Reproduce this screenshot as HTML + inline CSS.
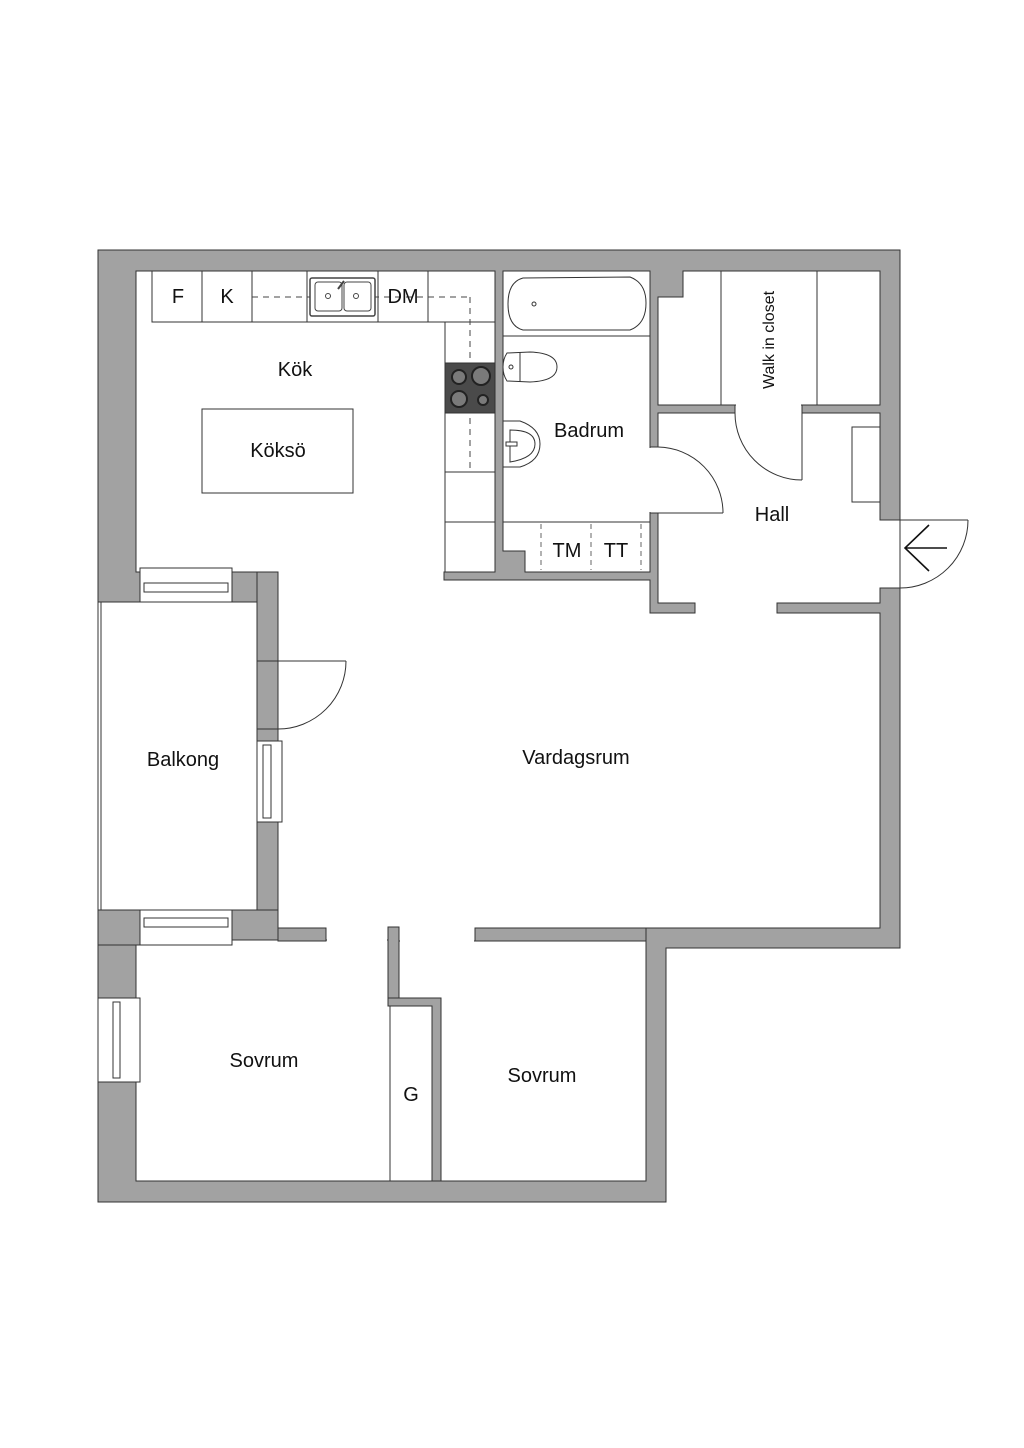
<!DOCTYPE html>
<html><head><meta charset="utf-8"><style>
html,body{margin:0;padding:0;background:#fff;}
svg{display:block;}
text{font-family:"Liberation Sans",sans-serif;fill:#111;}
</style></head><body>
<svg width="1024" height="1448" viewBox="0 0 1024 1448" xmlns="http://www.w3.org/2000/svg">
<rect width="1024" height="1448" fill="#fff"/>
<polygon points="98,250 900,250 900,948 666,948 666,1202 98,1202" fill="#a2a2a2" stroke="#333" stroke-width="1"/>
<g fill="#fff" stroke="#333" stroke-width="1">
<polygon points="136,271 495,271 495,572 444,572 444,580 650,580 650,613 695,613 695,603 658,603 658,513 650,513 650,447 658,447 658,413 735,413 735,405 802,405 802,413 880,413 880,520 900,520 900,588 880,588 880,603 777,603 777,613 880,613 880,928 475,928 475,941 399,941 399,927 388,927 388,941 326,941 326,928 278,928 278,572 232,572 232,568 140,568 140,572 136,572"/>
<polygon points="503,271 650,271 650,572 525,572 525,551 503,551"/>
<polygon points="683,271 880,271 880,405 802,405 802,405 735,405 658,405 658,297 683,297"/>
<polygon points="136,945 140,945 140,910 232,910 232,940 326,940 388,940 388,998 390,998 390,1181 136,1181"/>
<rect x="390" y="1006" width="42" height="175"/>
<polygon points="399,941 475,941 646,941 646,1181 441,1181 441,998 399,998"/>
<rect x="98" y="602" width="159" height="308"/>
</g>
<g fill="#a2a2a2" stroke="#333" stroke-width="1">
<rect x="388" y="927" width="11" height="71"/>
<polygon points="388,998 441,998 441,1181 432,1181 432,1006 399,1006 388,1006"/>
<rect x="278" y="928" width="48" height="13"/>
<rect x="475" y="928" width="171" height="13"/>
<rect x="257" y="572" width="21" height="89"/>
<rect x="257" y="729" width="21" height="12"/>
<rect x="257" y="822" width="21" height="106"/>
<rect x="232" y="910" width="46" height="30"/>
<rect x="98" y="910" width="42" height="35"/>
</g>
<!-- cover opening lines -->
<g fill="#fff">
<rect x="327" y="935" width="60" height="10"/>
<rect x="400" y="935" width="74" height="10"/>
<rect x="646" y="448" width="12" height="64"/>
<rect x="736" y="401" width="65" height="11"/>
</g>
<line x1="101" y1="602" x2="101" y2="910" stroke="#333"/>
<g fill="#fff" stroke="#333" stroke-width="1">
<rect x="140" y="568" width="92" height="34"/>
<rect x="144" y="583" width="84" height="9"/>
<rect x="140" y="910" width="92" height="35"/>
<rect x="144" y="918" width="84" height="9"/>
<rect x="98" y="998" width="42" height="84"/>
<rect x="113" y="1002" width="7" height="76"/>
<rect x="257" y="741" width="25" height="81"/>
<rect x="263" y="745" width="8" height="73"/>
</g>
<g fill="none" stroke="#333" stroke-width="1">
<line x1="257" y1="661" x2="346" y2="661"/>
<path d="M346,661 A68,68 0 0 1 278,729"/>
<line x1="257" y1="729" x2="278" y2="729"/>
<line x1="257" y1="661" x2="257" y2="729"/>
<line x1="658" y1="513" x2="723" y2="513"/>
<path d="M658,447 A66,66 0 0 1 723,513"/>
<line x1="802" y1="413" x2="802" y2="480"/>
<path d="M735,413 A67,67 0 0 0 802,480"/>
<line x1="900" y1="520" x2="968" y2="520"/>
<path d="M968,520 A68,68 0 0 1 900,588"/>
<line x1="900" y1="520" x2="900" y2="588"/>
<path d="M929,525 L905,548 L929,571 M905,548 L947,548" stroke="#111" stroke-width="1.6"/>
</g>
<g fill="#fff" stroke="#333" stroke-width="1">
<rect x="152" y="271" width="50" height="51"/>
<rect x="202" y="271" width="50" height="51"/>
<rect x="252" y="271" width="55" height="51"/>
<rect x="307" y="271" width="71" height="51"/>
<rect x="378" y="271" width="50" height="51"/>
<rect x="428" y="271" width="67" height="51"/>
<rect x="445" y="322" width="50" height="41"/>
<rect x="445" y="413" width="50" height="59"/>
<rect x="445" y="472" width="50" height="50"/>
<rect x="445" y="522" width="50" height="50"/>
<rect x="202" y="409" width="151" height="84"/>
</g>
<g stroke="#444" stroke-width="1" stroke-dasharray="6,5" fill="none">
<line x1="252" y1="297" x2="470" y2="297"/>
<line x1="470" y1="297" x2="470" y2="472"/>
</g>
<g fill="#fff" stroke="#444" stroke-width="1">
<rect x="310" y="278" width="65" height="38" rx="2" stroke-width="1.5"/>
<rect x="315" y="282" width="27" height="29" rx="3"/>
<rect x="344" y="282" width="27" height="29" rx="3"/>
<circle cx="328" cy="296" r="2.5"/>
<circle cx="356" cy="296" r="2.5"/>
<line x1="338" y1="289" x2="344" y2="281" stroke-width="2"/>
</g>
<rect x="445" y="363" width="50" height="50" fill="#4a4a4a" stroke="#333"/>
<g fill="#7a7a7a" stroke="#222" stroke-width="2">
<circle cx="459" cy="377" r="7"/>
<circle cx="481" cy="376" r="9"/>
<circle cx="459" cy="399" r="8"/>
<circle cx="483" cy="400" r="5"/>
</g>
<g fill="#fff" stroke="#333" stroke-width="1">
<line x1="503" y1="336" x2="650" y2="336"/>
<path d="M523,278 L630,277 Q646,283 646,303 Q646,324 630,330 L523,330 Q508,326 508,304 Q508,282 523,278 Z"/>
<circle cx="534" cy="304" r="2"/>
<path d="M507,353 L530,352 Q557,353 557,367 Q557,381 530,382 L507,381 Q503,375 503,367 Q503,359 507,353 Z"/>
<line x1="520" y1="352" x2="520" y2="382"/>
<circle cx="511" cy="367" r="2"/>
<path d="M503,421 L520,421 Q540,428 540,444 Q540,461 520,467 L503,467 Z"/>
<path d="M510,430 Q535,430 535,444 Q535,458 510,462 Z"/>
<rect x="506" y="442" width="11" height="4"/>
<line x1="503" y1="522" x2="650" y2="522"/>
</g>
<g stroke="#666" stroke-dasharray="5,4" fill="none">
<line x1="541" y1="524" x2="541" y2="570"/>
<line x1="591" y1="524" x2="591" y2="570"/>
<line x1="641" y1="524" x2="641" y2="570"/>
</g>
<g fill="#fff" stroke="#333" stroke-width="1">
<line x1="721" y1="271" x2="721" y2="405"/>
<line x1="817" y1="271" x2="817" y2="405"/>
<rect x="852" y="427" width="28" height="75"/>
</g>
<g font-size="20">
<text x="178" y="303" text-anchor="middle">F</text>
<text x="227" y="303" text-anchor="middle">K</text>
<text x="403" y="303" text-anchor="middle">DM</text>
<text x="295" y="376" text-anchor="middle">Kök</text>
<text x="278" y="457" text-anchor="middle">Köksö</text>
<text x="589" y="437" text-anchor="middle">Badrum</text>
<text x="567" y="557" text-anchor="middle">TM</text>
<text x="616" y="557" text-anchor="middle">TT</text>
<text x="772" y="521" text-anchor="middle">Hall</text>
<text x="576" y="764" text-anchor="middle">Vardagsrum</text>
<text x="183" y="766" text-anchor="middle">Balkong</text>
<text x="264" y="1067" text-anchor="middle">Sovrum</text>
<text x="542" y="1082" text-anchor="middle">Sovrum</text>
<text x="411" y="1101" text-anchor="middle">G</text>
<text x="0" y="0" font-size="16" text-anchor="middle" transform="translate(774,340) rotate(-90)">Walk in closet</text>
</g>
</svg>
</body></html>
